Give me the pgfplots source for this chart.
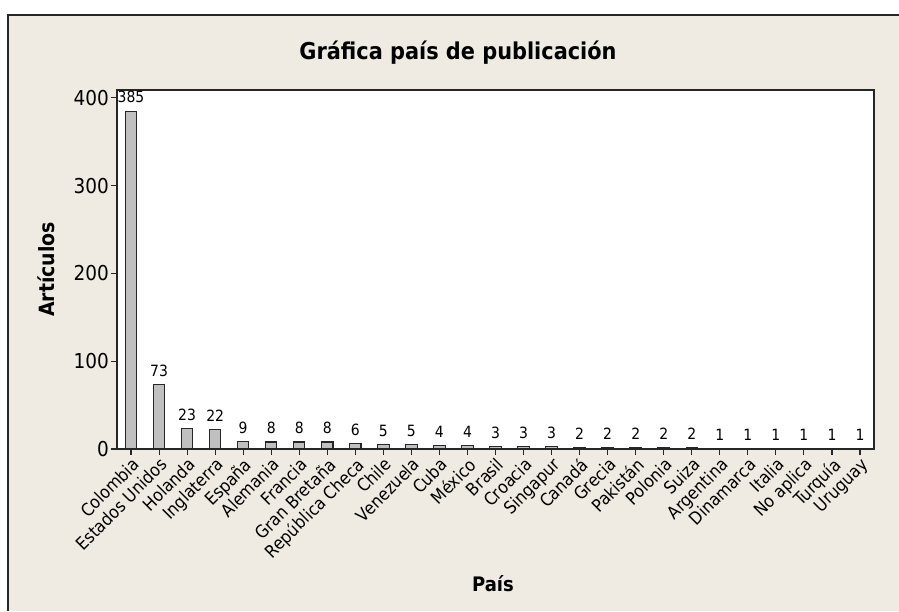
\documentclass[border=0pt]{standalone}
\usepackage{fontspec}
\setmainfont{DejaVu Sans Condensed}
\usepackage{pgfplots}
\pgfplotsset{compat=1.18}
\definecolor{fondo}{RGB}{239,235,226}
\definecolor{barra}{RGB}{192,192,192}
\begin{document}
\begin{tikzpicture}[x=1pt,y=1pt]
\fill[white] (0,0) rectangle (899,611);
\fill[fondo] (8,0) rectangle (899,596);
\draw[line width=1.5pt,black!85] (8,0) -- (8,596) -- (899,596);
\begin{axis}[
  at={(117pt,162pt)}, anchor=south west,
  scale only axis, width=757pt, height=359pt,
  axis background/.style={fill=white},
  axis line style={line width=1.3pt,black!85},
  xmin=-0.5, xmax=26.5, ymin=0, ymax=409,
  xtick=data,
  xticklabels={Colombia,Estados Unidos,Holanda,Inglaterra,España,Alemania,Francia,Gran Bretaña,República Checa,Chile,Venezuela,Cuba,México,Brasil,Croacia,Singapur,Canadá,Grecia,Pakistán,Polonia,Suiza,Argentina,Dinamarca,Italia,No aplica,Turquía,Uruguay},
  ytick={0,100,200,300,400},
  tick align=outside, major tick length=6pt,
  tick style={line width=1.1pt,black!85},
  xtick pos=bottom, ytick pos=left,
  /pgf/number format/assume math mode=true,
  xticklabel style={rotate=45, anchor=north east, inner sep=1pt, font=\fontsize{17.5}{17.5}\selectfont},
  yticklabel style={font=\fontsize{20.5}{20.5}\selectfont, inner sep=2pt},
  title={\bfseries Gráfica país de publicación},
  title style={at={(axis description cs:0.4505,1.0669)}, anchor=base, font=\fontsize{23.2}{23.2}\selectfont},
  xlabel={\bfseries País},
  xlabel style={at={(axis description cs:0.4967,-0.398)}, anchor=base, font=\fontsize{20}{20}\selectfont},
  ylabel={\bfseries Artículos},
  ylabel style={at={(axis description cs:-0.0832,0.5)}, rotate=0, anchor=base, font=\fontsize{21}{21}\selectfont},
  ybar, bar width=11.4pt,
  nodes near coords,
  every node near coord/.append style={font=\fontsize{15.5}{15.5}\selectfont, anchor=south, yshift=4pt, /pgf/number format/assume math mode=true},
]
\addplot[fill=barra, draw=black!85, line width=1.1pt] coordinates {
(0,385) (1,73) (2,23) (3,22) (4,9) (5,8) (6,8) (7,8) (8,6) (9,5) (10,5)
(11,4) (12,4) (13,3) (14,3) (15,3) (16,2) (17,2) (18,2) (19,2) (20,2)
(21,1) (22,1) (23,1) (24,1) (25,1) (26,1)};
\end{axis}
\pgfresetboundingbox
\useasboundingbox (0,0) rectangle (899,611);
\end{tikzpicture}
\end{document}
